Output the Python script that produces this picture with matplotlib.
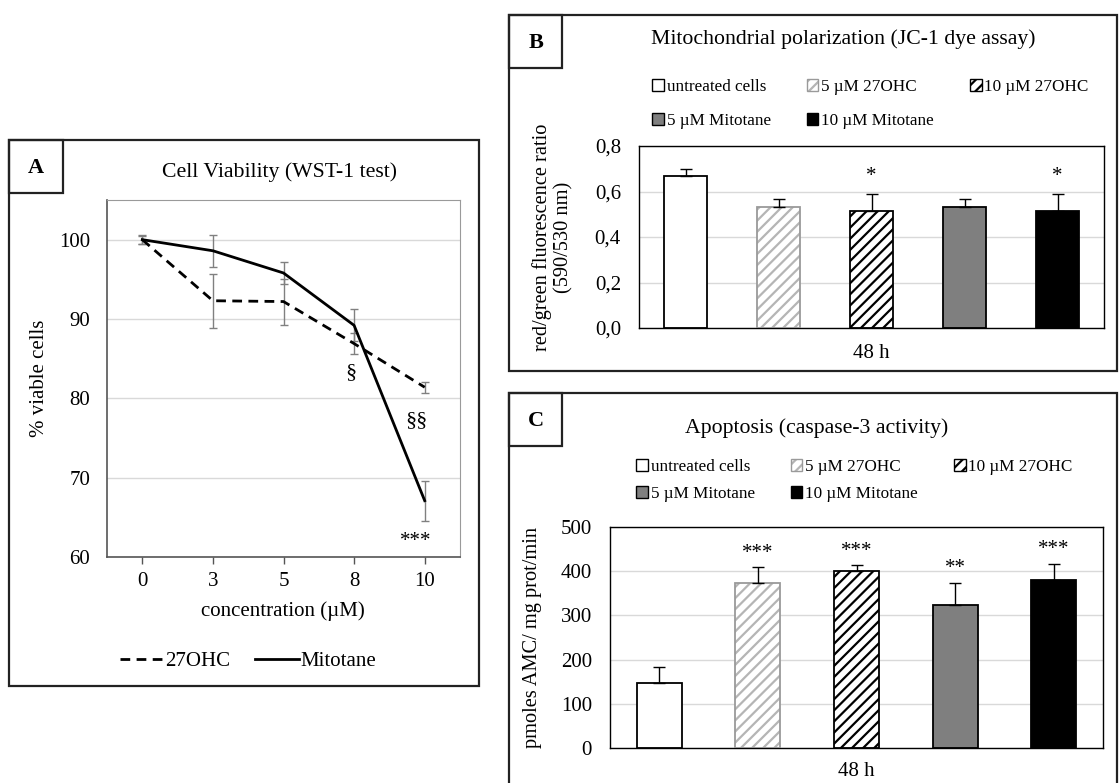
import matplotlib as mpl
mpl.use('Agg')
import matplotlib.pyplot as plt
from matplotlib.patches import Rectangle, Patch
from matplotlib.lines import Line2D
import numpy as np

plt.rcParams['font.family'] = ['Liberation Serif', 'DejaVu Serif']
plt.rcParams['hatch.linewidth'] = 1.6

W, H = 1119, 783

# --- panel A: cell viability (WST-1)
conc_labels = ['0', '3', '5', '8', '10']
oh27_viab = [100, 92.3, 92.2, 86.9, 81.4]
oh27_err = [0.5, 3.4, 2.9, 1.3, 0.7]
mito_viab = [100, 98.6, 95.8, 89.2, 67.1]
mito_err = [0.6, 2.0, 1.4, 2.0, 2.5]

# --- panels B and C: one time point, five treatments
groups = ['untreated cells', '5 µM 27OHC', '10 µM 27OHC',
          '5 µM Mitotane', '10 µM Mitotane']
jc1_ratio = [0.667, 0.533, 0.514, 0.533, 0.514]
jc1_err = [0.030, 0.036, 0.074, 0.036, 0.074]
jc1_stars = ['', '', '*', '', '*']

casp_activity = [147, 374, 401, 324, 380]
casp_err = [36, 36, 13, 50, 37]
casp_stars = ['', '***', '***', '**', '***']

# face, hatch, hatch colour, edge
bar_styles = [
    ('white', None, None, 'black'),
    ('white', '///', '#b5b5b5', '#9a9a9a'),
    ('white', '///', 'black', 'black'),
    ('#7f7f7f', None, None, 'black'),
    ('black', None, None, 'black'),
]


def fx(x):
    return x / W


def fy(y):
    return 1 - y / H


def fig_box(fig, x0, y0, x1, y1, lw=1.6):
    fig.add_artist(Rectangle((fx(x0), fy(y1)), (x1 - x0) / W, (y1 - y0) / H,
                             transform=fig.transFigure, fill=False,
                             lw=lw, ec='#222222'))


def fig_text(fig, x, y, s, **kw):
    kw.setdefault('ha', 'center')
    kw.setdefault('va', 'center')
    fig.text(fx(x), fy(y), s, **kw)


def axes_at(fig, x0, y0, x1, y1):
    return fig.add_axes([fx(x0), fy(y1), (x1 - x0) / W, (y1 - y0) / H])


def bar_panel(fig, box, label, title, title_xy, leg_xy, leg_space, plot,
              vals, errs, stars, star_pad, ylim, yticks, yfmt, ylabel,
              ylabel_x, xlab_y):
    fig_box(fig, *box)
    x0, y0 = box[0], box[1]
    fig_box(fig, x0, y0, x0 + 53, y0 + 53)
    fig_text(fig, x0 + 27, y0 + 28, label, fontsize=16, fontweight='bold')
    fig_text(fig, title_xy[0], title_xy[1], title, fontsize=15.7)

    ax = axes_at(fig, *plot)
    x = np.arange(len(vals))
    width = 0.458
    handles = []
    for i, (face, hatch, hc, edge) in enumerate(bar_styles):
        if hatch:
            ax.bar(x[i], vals[i], width, color='white', edgecolor=hc,
                   hatch=hatch, lw=0, zorder=2)
            ax.bar(x[i], vals[i], width, facecolor='none', edgecolor=edge,
                   lw=1.3, zorder=3)
            handles.append((Patch(facecolor='white', edgecolor=hc,
                                  hatch=hatch, lw=0),
                            Patch(facecolor='none', edgecolor=edge, lw=1.0)))
        else:
            ax.bar(x[i], vals[i], width, color=face, edgecolor=edge,
                   lw=1.3, zorder=2)
            handles.append(Patch(facecolor=face, edgecolor=edge, lw=1.0))
    ax.errorbar(x, vals, yerr=[np.zeros(len(vals)), errs], fmt='none',
                ecolor='black', elinewidth=1, capsize=4, capthick=1, zorder=4)
    for i, s in enumerate(stars):
        if s:
            ax.text(x[i], vals[i] + errs[i] + star_pad, s, ha='center',
                    va='center', fontsize=15)

    ax.set_xlim(-0.5, len(vals) - 0.5)
    ax.set_ylim(*ylim)
    ax.set_yticks(yticks)
    ax.set_yticklabels([yfmt(v) for v in yticks], fontsize=15)
    ax.set_xticks([])
    ax.tick_params(axis='y', length=0, pad=13)
    ax.yaxis.grid(True, color='#d9d9d9', lw=1)
    ax.set_axisbelow(True)
    for sp in ax.spines.values():
        sp.set_color('black')
        sp.set_linewidth(1.0)

    order = [0, 3, 1, 4, 2]
    fig.legend([handles[i] for i in order], [groups[i] for i in order],
               ncol=3, frameon=False, fontsize=12.3,
               loc='upper left', bbox_to_anchor=(fx(leg_xy[0]), fy(leg_xy[1])),
               bbox_transform=fig.transFigure, handlelength=0.7,
               handleheight=0.7, handletextpad=0.15, columnspacing=2.1,
               labelspacing=leg_space, borderpad=0, borderaxespad=0)

    fig_text(fig, ylabel_x, (plot[1] + plot[3]) / 2, ylabel, rotation=90,
             fontsize=14.7, linespacing=1.15)
    fig_text(fig, (plot[0] + plot[2]) / 2, xlab_y, '48 h', fontsize=15)
    return ax


fig = plt.figure(figsize=(W / 100, H / 100), dpi=100)

# ---------------- panel A ----------------
fig_box(fig, 9, 140, 479, 686)
fig_box(fig, 9, 140, 63, 193)
fig_text(fig, 36, 168, 'A', fontsize=16, fontweight='bold')
fig_text(fig, 280, 172, 'Cell Viability (WST-1 test)', fontsize=15.7)

axA = axes_at(fig, 107, 200, 460, 557)
xc = np.arange(len(conc_labels))
axA.errorbar(xc, oh27_viab, yerr=oh27_err, fmt='none', ecolor='#808080',
             elinewidth=1, capsize=3, capthick=1, zorder=2)
axA.errorbar(xc, mito_viab, yerr=mito_err, fmt='none', ecolor='#808080',
             elinewidth=1, capsize=3, capthick=1, zorder=2)
axA.plot(xc, oh27_viab, color='black', lw=2, ls=(0, (3.5, 2.3)), zorder=3)
axA.plot(xc, mito_viab, color='black', lw=2, zorder=3)
axA.text(3 - 0.04, 83.2, '§', ha='center', va='center', fontsize=16)
axA.text(4 - 0.12, 77.2, '§§', ha='center', va='center', fontsize=16)
axA.text(4 - 0.12, 62.0, '***', ha='center', va='center', fontsize=15)

axA.set_xlim(-0.5, 4.5)
axA.set_ylim(60, 105)
axA.set_yticks([60, 70, 80, 90, 100])
axA.set_xticks(xc)
axA.set_xticklabels(conc_labels)
axA.tick_params(axis='y', length=0, labelsize=15, pad=12)
axA.tick_params(axis='x', length=5, width=1, color='#555555', direction='out',
                labelsize=15, pad=6)
axA.yaxis.grid(True, color='#d9d9d9', lw=1)
axA.set_axisbelow(True)
for side in ['left', 'bottom']:
    axA.spines[side].set_color('#555555')
    axA.spines[side].set_linewidth(1.2)
for side in ['top', 'right']:
    axA.spines[side].set_color('#9a9a9a')
    axA.spines[side].set_linewidth(0.8)

fig_text(fig, 40, 378, '% viable cells', rotation=90, fontsize=15)
fig_text(fig, 283, 611, 'concentration (µM)', fontsize=15)
legA = [Line2D([], [], color='black', lw=2, ls=(0, (3.5, 2.3))),
        Line2D([], [], color='black', lw=2)]
fig.legend(legA, ['27OHC', 'Mitotane'], ncol=2, frameon=False, fontsize=15,
           loc='center', bbox_to_anchor=(fx(248), fy(661)),
           bbox_transform=fig.transFigure, handlelength=2.1,
           handletextpad=0.05, columnspacing=1.2)

# ---------------- panel B ----------------
bar_panel(fig, (509, 15, 1117, 371), 'B',
          'Mitochondrial polarization (JC-1 dye assay)', (843, 39),
          (652, 79), 1.05, (639, 146, 1104, 328), jc1_ratio, jc1_err,
          jc1_stars, 0.08, (0, 0.8), [0, 0.2, 0.4, 0.6, 0.8],
          lambda v: f'{v:.1f}'.replace('.', ','),
          'red/green fluorescence ratio\n(590/530 nm)', 553, 353)

# ---------------- panel C ----------------
bar_panel(fig, (509, 393, 1117, 800), 'C',
          'Apoptosis (caspase-3 activity)', (817, 428),
          (636, 459), 0.65, (610, 527, 1103, 748), casp_activity, casp_err,
          casp_stars, 31, (0, 500), [0, 100, 200, 300, 400, 500],
          lambda v: f'{v:d}', 'pmoles AMC/ mg prot/min', 532, 772)

fig.savefig('out.png', dpi=100)
